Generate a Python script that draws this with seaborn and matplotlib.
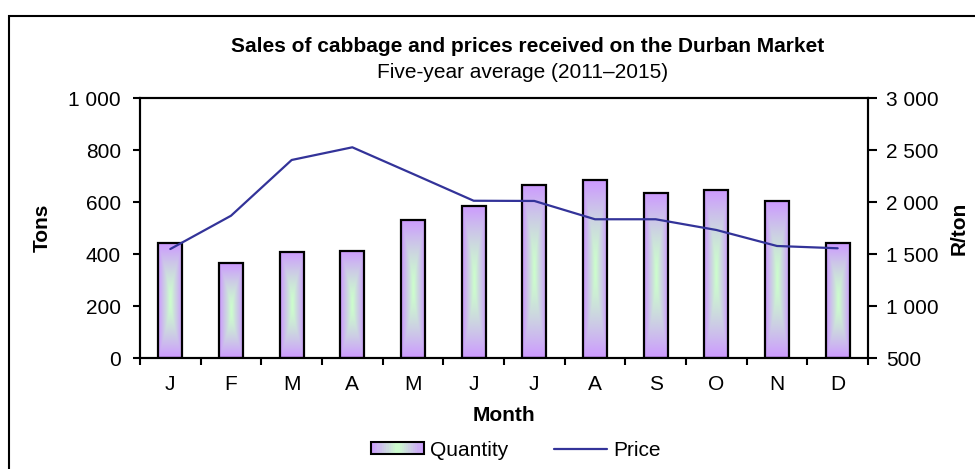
import numpy as np
import pandas as pd
import seaborn as sns
import matplotlib.pyplot as plt
from matplotlib.patches import Rectangle
from matplotlib.ticker import FuncFormatter, FixedLocator
from matplotlib.lines import Line2D
from matplotlib.legend_handler import HandlerBase

# monthly data
month_names = ['Jan', 'Feb', 'Mar', 'Apr', 'May', 'Jun',
               'Jul', 'Aug', 'Sep', 'Oct', 'Nov', 'Dec']
month_letters = ['J', 'F', 'M', 'A', 'M', 'J', 'J', 'A', 'S', 'O', 'N', 'D']
quantity = [441, 364, 408, 413, 531, 586, 666, 684, 636, 648, 602, 441]
price = [1548, 1868, 2404, 2526, 2270, 2012, 2010, 1834, 1834, 1731, 1577, 1555]

df = pd.DataFrame({'MONTH': month_names, 'QTY': quantity, 'PRICE': price})

purple = np.array([204, 153, 255]) / 255
green = np.array([204, 255, 204]) / 255
line_col = '#333399'
fs = 15


def mix(t):
    t = np.clip(t, 0, 1)[..., None]
    return green * (1 - t) + purple * t


class GradHandler(HandlerBase):
    def create_artists(self, legend, orig_handle, xdescent, ydescent,
                       width, height, fontsize, trans):
        arts = []
        n = 24
        for i in range(n):
            t = abs((i + 0.5) / n - 0.5) * 2
            arts.append(Rectangle((-xdescent + i * width / n, -ydescent), width / n, height,
                                  facecolor=mix(np.array(t)), edgecolor='none', transform=trans))
        arts.append(Rectangle((-xdescent, -ydescent), width, height, facecolor='none',
                              edgecolor='black', lw=1.5, transform=trans))
        return arts


sns.set_theme(style='white')
plt.rcParams['font.family'] = ['Liberation Sans', 'DejaVu Sans']
plt.rcParams['font.size'] = fs
plt.rcParams['text.color'] = 'black'
plt.rcParams['axes.labelcolor'] = 'black'
plt.rcParams['xtick.color'] = 'black'
plt.rcParams['ytick.color'] = 'black'

fig = plt.figure(figsize=(9.75, 4.69), dpi=100)
ax = fig.add_axes([140 / 975, 1 - 358 / 469, (868 - 140) / 975, (358 - 98) / 469])

sns.barplot(data=df, x='MONTH', y='QTY', order=month_names, width=0.4, ax=ax,
            facecolor='none', edgecolor='black', linewidth=1.6, zorder=3)

# gradient fill inside each bar
for p in ax.patches:
    x0, w, h = p.get_x(), p.get_width(), p.get_height()
    ny, nx = 120, 30
    yy, xx = np.mgrid[-1:1:ny * 1j, -1:1:nx * 1j]
    t = np.maximum(np.abs(xx), np.abs(yy) ** 1.4)
    ax.imshow(mix(t), extent=[x0, x0 + w, 0, h], aspect='auto', zorder=2,
              interpolation='bilinear')

ax.set_xlim(-0.5, 11.5)
ax.set_ylim(0, 1000)
ax.set_yticks(range(0, 1001, 200))
fmt = FuncFormatter(lambda v, pos: f'{int(v):,}'.replace(',', ' '))
ax.yaxis.set_major_formatter(fmt)
ax.set_xticks(range(12))
ax.set_xticklabels(month_letters)
ax.xaxis.set_minor_locator(FixedLocator(np.arange(-0.5, 12, 1)))
ax.tick_params(axis='x', which='major', length=0, pad=12, labelsize=fs, colors='black')
ax.tick_params(axis='x', which='minor', bottom=True, direction='out', length=5, width=1.5, color='black')
ax.tick_params(axis='y', left=True, direction='out', length=5, width=1.5, pad=8.6,
               labelsize=fs, color='black', labelcolor='black')
ax.set_xlabel('')
ax.set_ylabel('')
for s in ax.spines.values():
    s.set_visible(True)
    s.set_color('black')
    s.set_linewidth(1.5)

ax2 = ax.twinx()
sns.lineplot(x=np.arange(12), y=price, ax=ax2, color=line_col, linewidth=1.6, zorder=4)
ax2.set_ylim(500, 3000)
ax2.set_yticks(range(500, 3001, 500))
ax2.yaxis.set_major_formatter(fmt)
ax2.tick_params(axis='y', right=True, direction='out', length=6.5, width=1.5, pad=6.5,
                labelsize=fs, color='black', labelcolor='black')
ax2.set_ylabel('')
for s in ax2.spines.values():
    s.set_color('black')
    s.set_linewidth(1.5)
ax.set_xlim(-0.5, 11.5)

# titles and axis labels
fig.text(528 / 975, 1 - 47 / 469, 'Sales of cabbage and prices received on the Durban Market',
         ha='center', va='center', fontsize=fs, weight='bold')
fig.text(523 / 975, 1 - 72 / 469, 'Five-year average (2011\u20132015)',
         ha='center', va='center', fontsize=fs)
fig.text(42 / 975, 1 - 228 / 469, 'Tons', rotation=90, ha='center', va='center',
         fontsize=fs, weight='bold')
fig.text(959 / 975, 1 - 228 / 469, 'R/ton', rotation=90, ha='center', va='center',
         fontsize=fs, weight='bold')
fig.text(504 / 975, 1 - 415 / 469, 'Month', ha='center', va='center',
         fontsize=fs, weight='bold')

# legend
bar_handle = Rectangle((0, 0), 1, 1)
line_handle = Line2D([], [], color=line_col, lw=1.6)
fig.legend([bar_handle, line_handle], ['Quantity', 'Price'],
           handler_map={Rectangle: GradHandler()},
           loc='center', bbox_to_anchor=(516 / 975, 1 - 450 / 469), ncol=2,
           frameon=False, fontsize=fs, handlelength=2.55, handleheight=0.55,
           handletextpad=0.3, columnspacing=2.2)

# outer frame of the chart object
fig.add_artist(Rectangle((9 / 975, -0.5), 2, 1 - 16 / 469 + 0.5, transform=fig.transFigure,
                         fill=False, edgecolor='black', lw=1.5))

fig.savefig('out.png', dpi=100)
